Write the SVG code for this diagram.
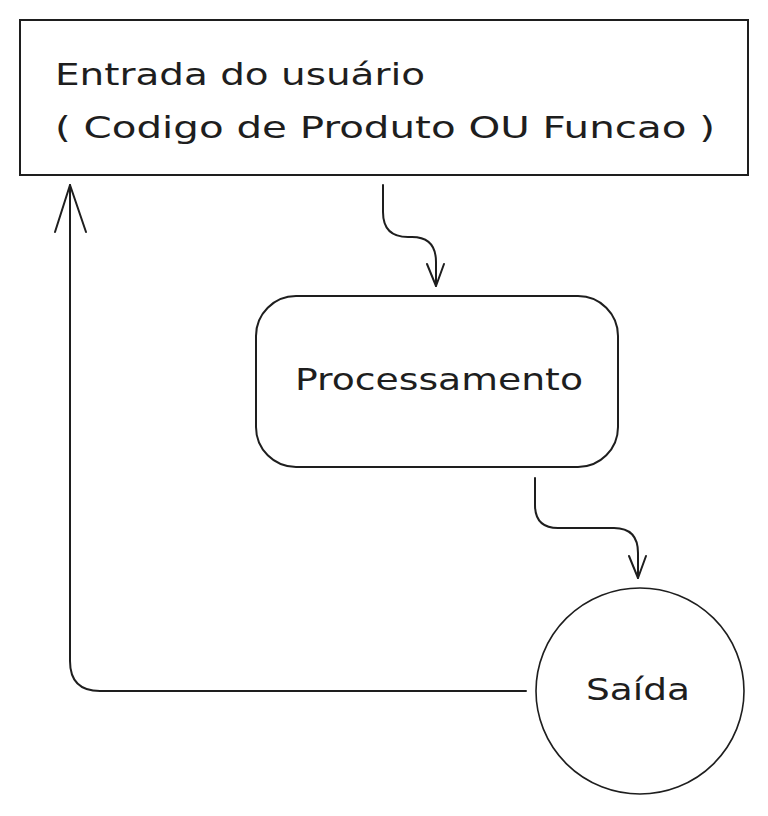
<svg xmlns="http://www.w3.org/2000/svg" width="768" height="816" viewBox="0 0 768 816">
  <style>
    .shape { fill: #ffffff; stroke: #1e1e1e; stroke-width: 2; }
    .conn { fill: none; stroke: #1e1e1e; stroke-width: 2; stroke-linecap: round; stroke-linejoin: round; }
    .label { font-family: "DejaVu Sans", "Liberation Sans", sans-serif; font-size: 31px; fill: #1e1e1e; }
  </style>
  <rect width="768" height="816" fill="#ffffff"/>
  <g id="entrada">
    <rect class="shape" x="20" y="20" width="728" height="155"/>
    <text class="label" x="55" y="85" textLength="370" lengthAdjust="spacingAndGlyphs">Entrada do usuário</text>
    <text class="label" x="55" y="138" textLength="660" lengthAdjust="spacingAndGlyphs">( Codigo de Produto OU Funcao )</text>
  </g>
  <g id="processamento">
    <rect class="shape" x="256" y="296" width="362" height="171" rx="40" ry="40"/>
    <text class="label" x="295" y="390" textLength="288" lengthAdjust="spacingAndGlyphs">Processamento</text>
  </g>
  <g id="saida">
    <ellipse class="shape" cx="640" cy="691" rx="104" ry="103" style="stroke-width:1.6"/>
    <text class="label" x="586" y="700" textLength="104" lengthAdjust="spacingAndGlyphs">Saída</text>
  </g>
  <g id="connectors">
    <path class="conn" d="M383,185 L383,212 Q383,237 408,237 L412,237 Q436,237 436,262 L436,286"/>
    <path class="conn" d="M427,264 L436,286 L444,264"/>
    <path class="conn" d="M535,478 L535,505 Q535,528 558,528 L614,528 Q638,528 638,553 L638,578"/>
    <path class="conn" d="M629,556 L638,578 L646,556"/>
    <path class="conn" d="M526,691 L100,691 Q70,691 70,661 L70,185"/>
    <path class="conn" d="M55,232 L70,185 L86,232"/>
  </g>
</svg>
